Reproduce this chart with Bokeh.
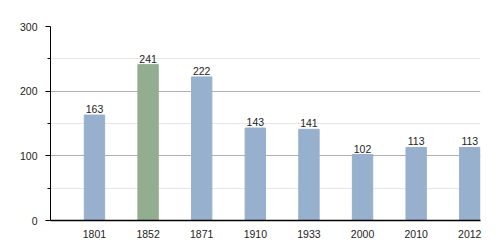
from bokeh.plotting import figure
from bokeh.models import ColumnDataSource, Range1d, FixedTicker, LabelSet
from bokeh.core.properties import value
from bokeh.embed import file_html
from bokeh.resources import INLINE

years = ["1801", "1852", "1871", "1910", "1933", "2000", "2010", "2012"]
population = [163, 241, 222, 143, 141, 102, 113, 113]
bar_colors = ["#97b0cd", "#93ad90", "#97b0cd", "#97b0cd", "#97b0cd", "#97b0cd", "#97b0cd", "#97b0cd"]
y_ticks = [0, 100, 200, 300]

xs = list(range(len(years)))
src = ColumnDataSource(dict(x=xs, y=population, c=bar_colors, lab=[str(v) for v in population]))

p = figure(width=500, height=250, output_backend="svg", toolbar_location=None,
           x_range=Range1d(-0.82, 7.2), y_range=Range1d(0, 300),
           min_border_left=50, min_border_right=20, min_border_top=26, min_border_bottom=30)
p.outline_line_color = None
p.background_fill_color = "white"

p.vbar(x="x", top="y", width=0.38, color="c", source=src)

labels = LabelSet(x="x", y="y", text="lab", source=src, text_align="center",
                  text_baseline="bottom", y_offset=2, text_font_size=value("10.5px"),
                  text_color="#222222", text_font=value("Liberation Sans"))
p.add_layout(labels)

p.xaxis.ticker = FixedTicker(ticks=xs)
p.xaxis.major_label_overrides = {i: y for i, y in enumerate(years)}
p.xaxis.major_tick_line_color = None
p.xaxis.minor_tick_line_color = None
p.xaxis.axis_line_color = "black"
p.xaxis.axis_line_width = 1.5
p.xaxis.major_label_text_font_size = "10.5px"
p.xaxis.major_label_text_font = "Liberation Sans"
p.xaxis.major_label_text_color = "#222222"
p.xaxis.major_label_standoff = 3

p.yaxis.ticker = FixedTicker(ticks=y_ticks, minor_ticks=[50, 150, 250])
p.yaxis.major_tick_out = 5
p.yaxis.major_tick_in = 0
p.yaxis.minor_tick_out = 3
p.yaxis.minor_tick_in = 0
p.yaxis.axis_line_color = "black"
p.yaxis.major_label_text_font_size = "10.5px"
p.yaxis.major_label_text_font = "Liberation Sans"
p.yaxis.major_label_text_color = "#222222"
p.yaxis.major_label_standoff = 8

p.xgrid.grid_line_color = None
p.ygrid.grid_line_color = "#b0b0b0"
p.ygrid.minor_grid_line_color = "#e6e6e6"

open("out.html", "w").write(file_html(p, INLINE))
